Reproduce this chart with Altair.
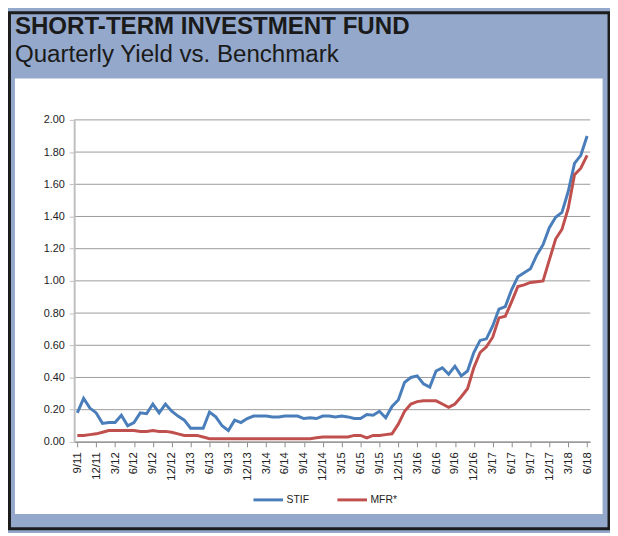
import json
import altair as alt
import pandas as pd

# Quarterly tick labels (every 3rd month, starting Sep 2011)
tick_labels = ["9/11", "12/11", "3/12", "6/12", "9/12", "12/12", "3/13", "6/13", "9/13",
               "12/13", "3/14", "6/14", "9/14", "12/14", "3/15", "6/15", "9/15", "12/15",
               "3/16", "6/16", "9/16", "12/16", "3/17", "6/17", "9/17", "12/17", "3/18", "6/18"]

series_names = ["STIF", "MFR*"]

# Monthly yields, Sep 2011 .. Jun 2018 (82 months)
stif = [0.18, 0.27, 0.21, 0.18, 0.115, 0.12, 0.12, 0.165, 0.10, 0.12,
        0.18, 0.175, 0.235, 0.18, 0.235, 0.19, 0.16, 0.135, 0.085, 0.085,
        0.085, 0.185, 0.155, 0.10, 0.07, 0.135, 0.12, 0.145, 0.16, 0.16,
        0.16, 0.155, 0.155, 0.16, 0.16, 0.16, 0.145, 0.15, 0.145, 0.16,
        0.16, 0.155, 0.16, 0.155, 0.145, 0.145, 0.17, 0.165, 0.19, 0.15,
        0.22, 0.26, 0.37, 0.40, 0.41, 0.36, 0.34, 0.44, 0.46, 0.42,
        0.47, 0.41, 0.44, 0.555, 0.63, 0.64, 0.72, 0.825, 0.84, 0.945,
        1.025, 1.05, 1.075, 1.16, 1.225, 1.33, 1.395, 1.425, 1.555, 1.73,
        1.78, 1.90]

mfr = [0.04, 0.04, 0.045, 0.05, 0.06, 0.07, 0.07, 0.07, 0.07, 0.07,
       0.065, 0.065, 0.07, 0.065, 0.065, 0.06, 0.05, 0.04, 0.04, 0.04,
       0.03, 0.02, 0.02, 0.02, 0.02, 0.02, 0.02, 0.02, 0.02, 0.02,
       0.02, 0.02, 0.02, 0.02, 0.02, 0.02, 0.02, 0.02, 0.025, 0.03,
       0.03, 0.03, 0.03, 0.03, 0.04, 0.04, 0.025, 0.04, 0.04, 0.045,
       0.05, 0.11, 0.19, 0.235, 0.25, 0.255, 0.255, 0.255, 0.235, 0.215,
       0.235, 0.28, 0.33, 0.46, 0.555, 0.59, 0.65, 0.77, 0.78, 0.87,
       0.965, 0.975, 0.99, 0.995, 1.00, 1.13, 1.26, 1.32, 1.45, 1.66,
       1.70, 1.78]

y_ticks = [0.0, 0.2, 0.4, 0.6, 0.8, 1.0, 1.2, 1.4, 1.6, 1.8, 2.0]

rows = []
for name, vals in zip(series_names, [stif, mfr]):
    for i, v in enumerate(vals):
        rows.append({"m": i, "yield": v, "series": name})
df = pd.DataFrame(rows)

FONT = "Liberation Sans"
W, H = 522.5, 326
PAD = {"left": 67, "top": 110, "right": 20, "bottom": 89}

one = pd.DataFrame({"k": [0]})

x_scale = alt.Scale(domain=[-0.5, 81.5], nice=False, zero=False)
y_scale = alt.Scale(domain=[0, 2], nice=False)

y_axis = alt.Axis(values=y_ticks, format=".2f", title=None, grid=False,
                  tickSize=5, tickColor="#bfbfbf", domainColor="#bfbfbf",
                  domainWidth=2, labelFontSize=11, labelPadding=5,
                  labelColor="#222222", labelFont=FONT, zindex=1)

panel = alt.Chart(one).mark_rect(fill="white").encode(
    x=alt.value(-60), x2=alt.value(535), y=alt.value(-42), y2=alt.value(399)
)

border = alt.Chart(one).mark_rect(fill="transparent", stroke="#1c1c1c", strokeWidth=3).encode(
    x=alt.value(-PAD["left"] + 1.5), x2=alt.value(W + PAD["right"] - 1),
    y=alt.value(-PAD["top"] + 1.5), y2=alt.value(H + PAD["bottom"] - 1)
)

grid = alt.Chart(pd.DataFrame({"yield": y_ticks})).mark_rule(color="#9a9a9a", strokeWidth=1).encode(
    y=alt.Y("yield:Q", scale=y_scale, axis=y_axis),
    x=alt.value(0), x2=alt.value(W),
)

label_expr = json.dumps(tick_labels) + "[round(datum.value/3)]"

lines = alt.Chart(df).mark_line(strokeWidth=3).encode(
    x=alt.X("m:Q", scale=x_scale,
            axis=alt.Axis(values=list(range(0, 82, 3)), labelExpr=label_expr,
                          labelAngle=-90, labelAlign="right", labelBaseline="middle",
                          grid=False, title=None, tickSize=5, tickColor="#8c8c8c",
                          domainColor="#8c8c8c", domainWidth=1,
                          labelFontSize=11.5, labelPadding=5, labelColor="#222222",
                          labelFont=FONT, zindex=1)),
    y=alt.Y("yield:Q", scale=y_scale, axis=y_axis),
    color=alt.Color("series:N",
                    scale=alt.Scale(domain=series_names, range=["#4a7ebb", "#c0504d"]),
                    sort=series_names,
                    legend=alt.Legend(title=None, orient="none", direction="horizontal",
                                      legendX=180, legendY=368, symbolType="stroke",
                                      symbolSize=900, symbolStrokeWidth=3,
                                      labelFontSize=10.5, labelFont=FONT, labelColor="#222222",
                                      columnPadding=22, labelOffset=2)),
    order=alt.Order("series:N", sort="ascending"),
)

chart = alt.layer(panel, border, grid, lines).properties(
    width=W, height=H,
    autosize=alt.AutoSizeParams(type="none"),
    padding=PAD,
    background="#93a8cb",
    title=alt.TitleParams(
        text="SHORT-TERM INVESTMENT FUND",
        subtitle="Quarterly Yield vs. Benchmark",
        anchor="start", frame="group", dx=-60, offset=-57,
        font=FONT, fontSize=24.4, fontWeight="bold", color="#1a1a1a",
        subtitleFont=FONT, subtitleFontSize=24.4, subtitleColor="#1a1a1a",
        subtitlePadding=4,
    ),
).configure_view(strokeWidth=0)

chart.save("out.html", embed_options={"renderer": "svg", "actions": False})
